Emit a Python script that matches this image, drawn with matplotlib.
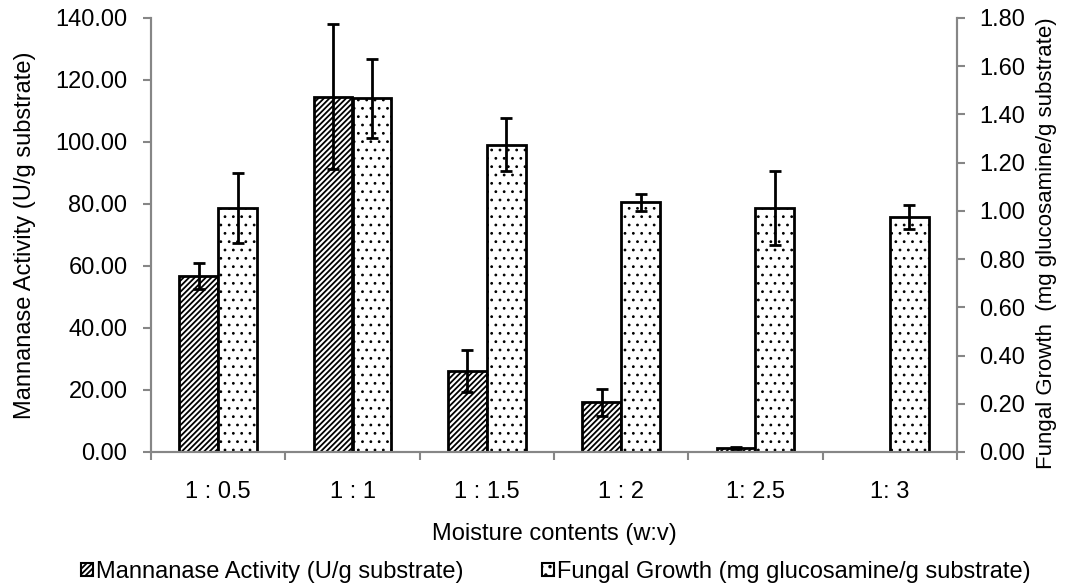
import numpy as np
import matplotlib.pyplot as plt
from matplotlib.patches import Patch

plt.rcParams['font.family'] = ['Liberation Sans', 'DejaVu Sans']
plt.rcParams['hatch.linewidth'] = 1.3

moisture = ['1 : 0.5', '1 : 1', '1 : 1.5', '1 : 2', '1: 2.5', '1: 3']
mannanase = [56.8, 114.6, 26.1, 16.0, 1.2, 0.0]
mannanase_err = [4.3, 23.4, 6.8, 4.3, 0.3, 0.0]
fungal = [1.012, 1.467, 1.275, 1.035, 1.012, 0.975]
fungal_err = [0.145, 0.165, 0.11, 0.035, 0.155, 0.05]

grey = '#868686'
fs = 17
x = np.arange(len(moisture))
w = 0.29

fig = plt.figure(figsize=(10.73, 5.86), dpi=100)
ax = fig.add_axes([151 / 1073, 1 - 452 / 586, 806 / 1073, 434 / 586])
ax2 = ax.twinx()

ax.bar(x - w / 2, mannanase, w, color='white', edgecolor='black', linewidth=2,
       hatch='//////', zorder=2)
ax.errorbar(x - w / 2, mannanase, yerr=mannanase_err, fmt='none', ecolor='black',
            elinewidth=2, capsize=4.5, capthick=2, zorder=3)
with plt.rc_context({'hatch.linewidth': 0.8}):
    ax2.bar(x + w / 2, fungal, w, color='white', edgecolor='black', linewidth=2,
            hatch='..', zorder=2)
ax2.errorbar(x + w / 2, fungal, yerr=fungal_err, fmt='none', ecolor='black',
             elinewidth=2, capsize=4.5, capthick=2, zorder=3)

ax.set_xlim(-0.5, len(moisture) - 0.5)
ax.set_ylim(0, 140)
ax2.set_ylim(0, 1.8)
ax.set_yticks(np.arange(0, 141, 20))
ax.set_yticklabels(['%.2f' % v for v in np.arange(0, 141, 20)])
ax2.set_yticks(np.arange(0, 1.81, 0.2))
ax2.set_yticklabels(['%.2f' % v for v in np.arange(0, 1.81, 0.2)])

ax.set_xticks(np.arange(-0.5, len(moisture), 1.0))
ax.set_xticklabels([])
ax.set_xticks(x, minor=True)
ax.set_xticklabels(moisture, minor=True)
ax.tick_params(axis='x', which='minor', length=0, pad=21, labelsize=fs)
ax.tick_params(axis='x', which='major', length=6, color=grey, width=1.5)
ax.tick_params(axis='y', length=6, color=grey, width=1.5, labelsize=fs, pad=11)
ax2.tick_params(axis='y', length=6, color=grey, width=1.5, labelsize=fs, pad=10)

for a in (ax, ax2):
    a.spines['top'].set_visible(False)
    for s in ('left', 'right', 'bottom'):
        a.spines[s].set_color(grey)
        a.spines[s].set_linewidth(1.5)

ax.set_xlabel('Moisture contents (w:v)', fontsize=fs, labelpad=14)
ax.set_ylabel('Mannanase Activity (U/g substrate)', fontsize=fs, labelpad=14)
ax2.set_ylabel('Fungal Growth  (mg glucosamine/g substrate)', fontsize=16)
ax2.yaxis.set_label_coords(1.098, 0.48)

handles = [Patch(facecolor='white', edgecolor='black', hatch='//////', linewidth=1.5),
           Patch(facecolor='white', edgecolor='black', hatch='..', linewidth=1.5)]
fig.legend(handles, ['Mannanase Activity (U/g substrate)',
                     'Fungal Growth (mg glucosamine/g substrate)'],
           loc='center', bbox_to_anchor=(556 / 1073, 1 - 572 / 586), ncol=2,
           frameon=False, fontsize=fs, handlelength=0.5, handleheight=0.5,
           handletextpad=0.15, columnspacing=3.3, borderpad=0, borderaxespad=0)

fig.savefig('out.png', dpi=100)
